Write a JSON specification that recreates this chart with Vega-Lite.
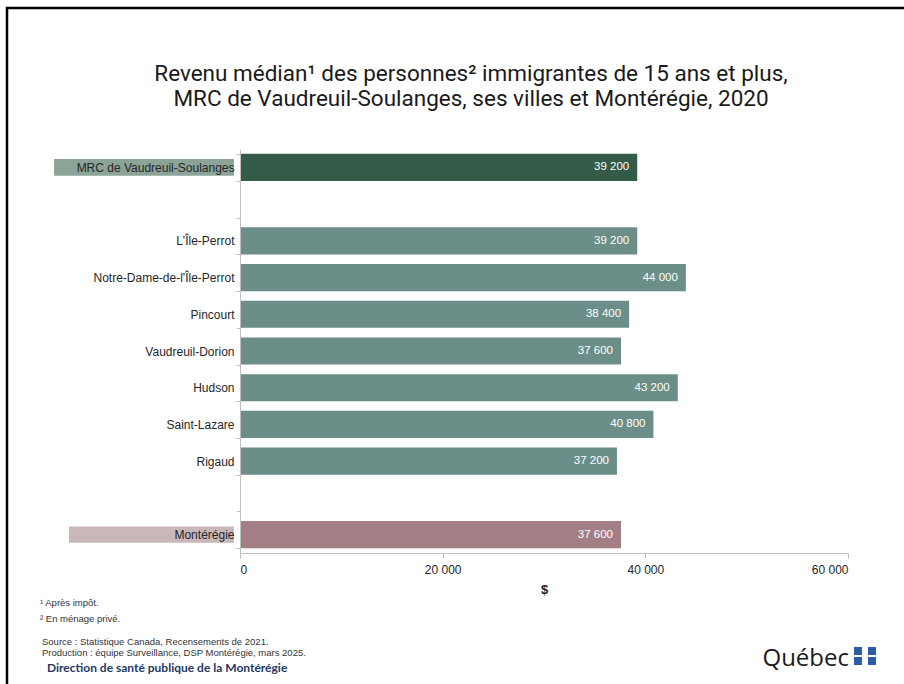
{
  "$schema": "https://vega.github.io/schema/vega-lite/v6.json",
  "width": 608,
  "height": 404,
  "autosize": {"type": "none"},
  "padding": {"left": 240, "top": 149, "right": 56, "bottom": 131},
  "background": "white",
  "config": {
    "view": {"stroke": null},
    "locale": {"number": {"decimal": ",", "thousands": "\u00a0", "grouping": [3], "currency": ["", "\u00a0$"]}},
    "font": "Liberation Sans"
  },
  "datasets": {
    "revenus": [
      {"lieu": "MRC de Vaudreuil-Soulanges", "revenu": 39200, "type": "MRC"},
      {"lieu": "L'Île-Perrot", "revenu": 39200, "type": "Ville"},
      {"lieu": "Notre-Dame-de-l'Île-Perrot", "revenu": 44000, "type": "Ville"},
      {"lieu": "Pincourt", "revenu": 38400, "type": "Ville"},
      {"lieu": "Vaudreuil-Dorion", "revenu": 37600, "type": "Ville"},
      {"lieu": "Hudson", "revenu": 43200, "type": "Ville"},
      {"lieu": "Saint-Lazare", "revenu": 40800, "type": "Ville"},
      {"lieu": "Rigaud", "revenu": 37200, "type": "Ville"},
      {"lieu": "Montérégie", "revenu": 37600, "type": "Montérégie"}
    ],
    "one": [{"k": 1}]
  },
  "layer": [
    {
      "data": {"name": "one"},
      "mark": {"type": "rect", "fill": null, "stroke": "#000000", "strokeWidth": 2.5, "clip": false},
      "encoding": {
        "x": {"value": -233},
        "x2": {"value": 800},
        "y": {"value": -141},
        "y2": {"value": 700}
      }
    },
    {
      "data": {"name": "one"},
      "mark": {"type": "text", "align": "center", "baseline": "alphabetic", "font": "Roboto", "fontSize": 22.5, "color": "#1a1a1a", "lineHeight": 25,
        "text": ["Revenu médian¹ des personnes² immigrantes de 15 ans et plus,", "MRC de Vaudreuil-Soulanges, ses villes et Montérégie, 2020"]},
      "encoding": {"x": {"value": 231}, "y": {"value": -68}}
    },
    {
      "data": {"name": "revenus"},
      "transform": [{"filter": "datum.type === 'MRC'"}],
      "mark": {"type": "bar", "height": {"band": 0.62}, "color": "#8ca398", "clip": false},
      "encoding": {
        "y": {"field": "lieu", "type": "nominal"},
        "x": {"datum": -18350, "type": "quantitative"},
        "x2": {"datum": -600}
      }
    },
    {
      "data": {"name": "revenus"},
      "transform": [{"filter": "datum.type === 'Montérégie'"}],
      "mark": {"type": "bar", "height": {"band": 0.6}, "color": "#cab7ba", "clip": false},
      "encoding": {
        "y": {"field": "lieu", "type": "nominal"},
        "x": {"datum": -16880, "type": "quantitative"},
        "x2": {"datum": -600}
      }
    },
    {
      "data": {"name": "revenus"},
      "mark": {"type": "bar", "height": {"band": 1}},
      "encoding": {
        "y": {
          "field": "lieu",
          "type": "nominal",
          "sort": null,
          "scale": {
            "domain": ["MRC de Vaudreuil-Soulanges", " ", "L'Île-Perrot", "Notre-Dame-de-l'Île-Perrot", "Pincourt", "Vaudreuil-Dorion", "Hudson", "Saint-Lazare", "Rigaud", "  ", "Montérégie"],
            "paddingInner": 0.26,
            "paddingOuter": 0.13
          },
          "axis": {
            "title": null,
            "zindex": 1,
            "tickBand": "extent",
            "tickSize": 4,
            "tickColor": "#bfbfbf",
            "domainColor": "#bfbfbf",
            "labelFont": "Liberation Sans",
            "labelFontSize": 12,
            "labelColor": "#262626",
            "labelPadding": 2
          }
        },
        "x": {
          "field": "revenu",
          "type": "quantitative",
          "scale": {"domain": [0, 60000], "nice": false},
          "axis": {
            "title": "$",
            "titleFont": "Liberation Sans",
            "titleFontSize": 13,
            "titleFontWeight": "bold",
            "titleColor": "#1a1a1a",
            "titlePadding": 8,
            "values": [0, 20000, 40000, 60000],
            "format": ",d",
            "grid": false,
            "tickSize": 5,
            "tickColor": "#bfbfbf",
            "domainColor": "#bfbfbf",
            "labelFont": "Liberation Sans",
            "labelFontSize": 12,
            "labelColor": "#262626",
            "labelPadding": 6
          }
        },
        "color": {
          "field": "type",
          "type": "nominal",
          "scale": {"domain": ["MRC", "Ville", "Montérégie"], "range": ["#335b47", "#6b8f88", "#a47e85"]},
          "legend": null
        }
      }
    },
    {
      "data": {"name": "revenus"},
      "mark": {"type": "text", "align": "right", "baseline": "middle", "dx": -8, "color": "white", "font": "Liberation Sans", "fontSize": 11.5},
      "encoding": {
        "y": {"field": "lieu", "type": "nominal"},
        "x": {"field": "revenu", "type": "quantitative"},
        "text": {"field": "revenu", "type": "quantitative", "format": ",d"}
      }
    },
    {
      "data": {"name": "one"},
      "mark": {"type": "text", "align": "left", "baseline": "middle", "font": "Liberation Sans", "fontSize": 9.5, "color": "#333333", "text": "¹ Après impôt."},
      "encoding": {"x": {"value": -200}, "y": {"value": 454}}
    },
    {
      "data": {"name": "one"},
      "mark": {"type": "text", "align": "left", "baseline": "middle", "font": "Liberation Sans", "fontSize": 9.5, "color": "#333333", "text": "² En ménage privé."},
      "encoding": {"x": {"value": -200}, "y": {"value": 470}}
    },
    {
      "data": {"name": "one"},
      "mark": {"type": "text", "align": "left", "baseline": "middle", "font": "Liberation Sans", "fontSize": 9.5, "color": "#333333", "lineHeight": 11,
        "text": ["Source : Statistique Canada, Recensements de 2021.", "Production : équipe Surveillance, DSP Montérégie, mars 2025."]},
      "encoding": {"x": {"value": -198}, "y": {"value": 493}}
    },
    {
      "data": {"name": "one"},
      "mark": {"type": "text", "align": "left", "baseline": "middle", "font": "Lato", "fontWeight": "bold", "fontSize": 12, "color": "#1f3864", "text": "Direction de santé publique de la Montérégie"},
      "encoding": {"x": {"value": -193}, "y": {"value": 519}}
    },
    {
      "data": {"name": "one"},
      "mark": {"type": "text", "align": "right", "baseline": "alphabetic", "font": "Open Sans", "fontSize": 24, "color": "#1a1a1a", "text": "Québec"},
      "encoding": {"x": {"value": 609}, "y": {"value": 517}}
    },
    {
      "data": {"name": "one"},
      "mark": {"type": "square", "size": 64, "filled": true, "color": "#2b5ea7", "opacity": 1},
      "encoding": {"x": {"value": 618}, "y": {"value": 502}}
    },
    {
      "data": {"name": "one"},
      "mark": {"type": "square", "size": 64, "filled": true, "color": "#2b5ea7", "opacity": 1},
      "encoding": {"x": {"value": 632}, "y": {"value": 502}}
    },
    {
      "data": {"name": "one"},
      "mark": {"type": "square", "size": 64, "filled": true, "color": "#2b5ea7", "opacity": 1},
      "encoding": {"x": {"value": 618}, "y": {"value": 512}}
    },
    {
      "data": {"name": "one"},
      "mark": {"type": "square", "size": 64, "filled": true, "color": "#2b5ea7", "opacity": 1},
      "encoding": {"x": {"value": 632}, "y": {"value": 512}}
    }
  ]
}
